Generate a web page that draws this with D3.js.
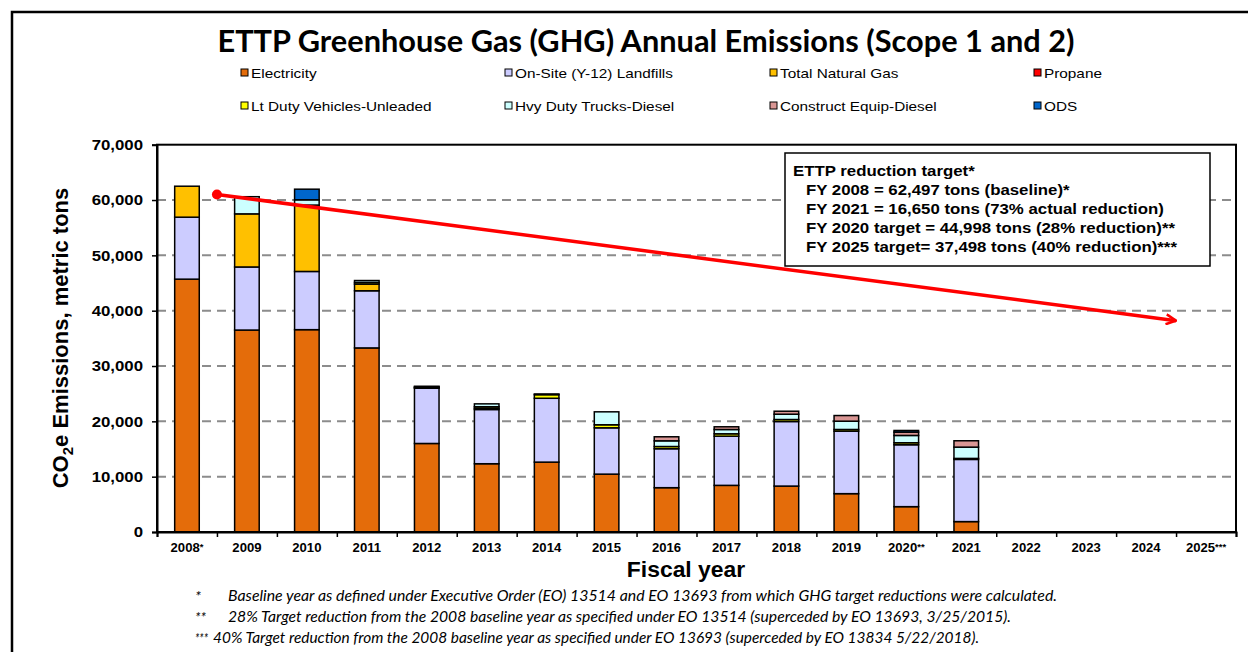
<!DOCTYPE html>
<html lang="en">
<head>
<meta charset="UTF-8">
<title>ETTP GHG Annual Emissions</title>
<script src="https://cdn.jsdelivr.net/npm/d3@7"></script>
<style>
  body{margin:0;background:#fff;}
  text{font-family:"Liberation Sans",Arial,sans-serif;fill:#000;}
</style>
</head>
<body>
<svg id="chart" width="1248" height="652"></svg>
<script>
// fiscal years on the x axis, and the asterisk notes after some of them
var years = ["2008","2009","2010","2011","2012","2013","2014","2015","2016","2017","2018","2019","2020","2021","2022","2023","2024","2025"];
var yearNotes = ["*","","","","","","","","","","","","**","","","","","***"];

// emissions per source, metric tons CO2e
var electricity = [45700,36500,36570,33270,16000,12340,12630,10460,8010,8430,8300,6930,4580,1880,0,0,0,0];
var landfills   = [11200,11400,10520,10330,9980,9800,11540,8370,7040,8890,11670,11290,11190,11240,0,0,0,0];
var naturalGas  = [5597,9600,12000,1200,120,200,0,0,0,0,0,0,0,0,0,0,0,0];
var propane     = [0,0,0,0,0,0,0,0,0,0,0,0,0,0,0,0,0,0];
var ltDuty      = [0,0,0,300,120,300,650,550,400,430,360,310,360,180,0,0,0,0];
var hvyTrucks   = [0,3100,950,350,120,520,130,2340,1030,775,960,1500,1320,2040,0,0,0,0];
var construct   = [0,0,0,0,0,0,0,0,730,490,540,1020,600,1150,0,0,0,0];
var ods         = [0,0,1920,0,0,0,0,0,0,0,0,0,300,0,0,0,0,0];

var seriesNames = ["Electricity","On-Site (Y-12) Landfills","Total Natural Gas","Propane",
                   "Lt Duty Vehicles-Unleaded","Hvy Duty Trucks-Diesel","Construct Equip-Diesel","ODS"];
var seriesColors = ["#E46C0A","#CCCCFF","#FFC000","#FF0000","#FFFF00","#CCFFFF","#D99694","#0066CC"];
var seriesValues = [electricity,landfills,naturalGas,propane,ltDuty,hvyTrucks,construct,ods];

// red target arrow: start (FY2008 baseline) and end (FY2025 target)
var trendYears = [2008, 2025];
var trendValues = [61000, 38200];

var yTicks = [0,10000,20000,30000,40000,50000,60000,70000];
var gridValues = [10000,20000,30000,40000,50000,60000];

var boxLines = ["ETTP reduction target*",
  "FY 2008 = 62,497 tons (baseline)*",
  "FY 2021 = 16,650 tons (73% actual reduction)",
  "FY 2020 target = 44,998 tons (28% reduction)**",
  "FY 2025 target= 37,498 tons (40% reduction)***"];

var footMarks = ["*","**","***"];
var footTexts = [
  "Baseline year as defined under Executive Order (EO) 13514 and EO 13693 from which GHG target reductions were calculated.",
  "28% Target reduction from the 2008 baseline year as specified under EO 13514 (superceded by EO 13693, 3/25/2015).",
  "40% Target reduction from the 2008 baseline year as specified under EO 13693 (superceded by EO 13834 5/22/2018)."];

var svg = d3.select("#chart");
var L = 157, R = 1236, T = 144.7, B = 532;

// outer frame
svg.append("rect").attr("x",12).attr("y",12).attr("width",1260).attr("height",700)
  .attr("fill","none").attr("stroke","#000").attr("stroke-width",2.5);

// title
svg.append("text").attr("x",646).attr("y",52).attr("text-anchor","middle")
  .style("font-family","Lato,'Open Sans',sans-serif").style("font-weight","bold").style("font-size","30px")
  .attr("textLength",857).attr("lengthAdjust","spacingAndGlyphs")
  .text("ETTP Greenhouse Gas (GHG) Annual Emissions (Scope 1 and 2)");

// legend
var legCols = [241,505,770,1034], legRows = [73,106];
seriesNames.forEach(function(n,i){
  var lx = legCols[i%4], ly = legRows[Math.floor(i/4)];
  svg.append("rect").attr("x",lx).attr("y",ly-4).attr("width",7).attr("height",7)
    .attr("fill",seriesColors[i]).attr("stroke","#000").attr("stroke-width",1);
  svg.append("text").attr("transform","translate("+(lx+10)+","+(ly+5)+") scale(1.18,1)")
    .style("font-size","13px").text(n);
});

// scales
var x = d3.scaleBand().domain(years).range([L,R]).paddingInner(0.59).paddingOuter(0.295);
var edge = d3.scaleLinear().domain([0,years.length]).range([L,R]);
var y = d3.scaleLinear().domain([0,70000]).range([B,T]);

// grid
svg.append("g").selectAll("line").data(gridValues).join("line")
  .attr("x1",L).attr("x2",R).attr("y1",d=>y(d)).attr("y2",d=>y(d))
  .attr("stroke","#8c8c8c").attr("stroke-width",2).attr("stroke-dasharray","9,6");

// stacked bars
var table = years.map(function(yr,i){
  var row = {year: yr};
  seriesNames.forEach(function(n,k){ row[n] = seriesValues[k][i]; });
  return row;
});
var stacked = d3.stack().keys(seriesNames)(table);
svg.append("g").selectAll("g").data(stacked).join("g")
  .attr("fill",(d,i)=>seriesColors[i])
  .selectAll("rect").data(d=>d.filter(s=>s[1]-s[0]>0)).join("rect")
  .attr("x",d=>x(d.data.year)).attr("width",x.bandwidth())
  .attr("y",d=>y(d[1])).attr("height",d=>y(d[0])-y(d[1]))
  .attr("stroke","#000").attr("stroke-width",1.5);

// plot box (top and right)
svg.append("rect").attr("x",L).attr("y",T).attr("width",R-L).attr("height",B-T)
  .attr("fill","none").attr("stroke","#000").attr("stroke-width",2);

// y axis
var ySx = 1.12;
var yAxis = svg.append("g").attr("transform","translate("+L+",0)")
  .call(d3.axisLeft(y).tickValues(yTicks).tickSize(5).tickFormat(d3.format(",")));
yAxis.select(".domain").attr("stroke-width",2);
yAxis.selectAll(".tick line").attr("stroke-width",1.5);
yAxis.selectAll("text").attr("x",-14/ySx).attr("transform","scale("+ySx+",1)")
  .style("font-family","'Liberation Sans',Arial,sans-serif").style("font-size","15px").style("font-weight","bold");

// x axis: boundary ticks + labels
var xEdges = svg.append("g").attr("transform","translate(0,"+B+")")
  .call(d3.axisBottom(edge).ticks(years.length).tickSize(5).tickFormat(""));
xEdges.select(".domain").attr("stroke-width",2);
xEdges.selectAll(".tick line").attr("stroke-width",1.5);

var xLab = svg.append("g").attr("transform","translate(0,"+B+")")
  .call(d3.axisBottom(x).tickSize(0).tickPadding(11).tickFormat(""));
xLab.select(".domain").remove();
xLab.selectAll(".tick text").attr("transform","scale(1.05,1)")
  .style("font-family","'Liberation Sans',Arial,sans-serif").style("font-size","12.5px").style("font-weight","bold")
  .each(function(d,i){
    var t = d3.select(this);
    t.append("tspan").text(d);
    if (yearNotes[i]) t.append("tspan").attr("dy","-2").style("font-size","9px").text(yearNotes[i]);
  });

// axis titles
svg.append("text").attr("transform","translate(686,577) scale(1.04,1)").attr("text-anchor","middle")
  .style("font-size","22px").style("font-weight","bold").text("Fiscal year");
var yt = svg.append("text").attr("transform","translate(68,338) rotate(-90)").attr("text-anchor","middle")
  .style("font-size","22px").style("font-weight","bold");
yt.append("tspan").text("CO");
yt.append("tspan").attr("dy",5).style("font-size","15px").text("2");
yt.append("tspan").attr("dy",-5).text("e Emissions, metric tons");

// target arrow
var tx = d3.scaleLinear().domain([2008,2025]).range([edge(1),edge(17)]);
svg.append("defs").append("marker").attr("id","arr").attr("viewBox","0 0 12 12")
  .attr("refX",11).attr("refY",6).attr("markerWidth",12).attr("markerHeight",12)
  .attr("markerUnits","userSpaceOnUse").attr("orient","auto")
  .append("path").attr("d","M1,1 L11,6 L1,11").attr("fill","none").attr("stroke","#FF0000").attr("stroke-width",2.5);
var trend = trendYears.map((yr,i)=>({yr:yr, v:trendValues[i]}));
svg.append("path").datum(trend)
  .attr("d",d3.line().x(d=>tx(d.yr)).y(d=>y(d.v)))
  .attr("fill","none").attr("stroke","#FF0000").attr("stroke-width",3.5).attr("marker-end","url(#arr)");
svg.append("circle").attr("cx",tx(trend[0].yr)).attr("cy",y(trend[0].v)).attr("r",5).attr("fill","#FF0000");

// target box
svg.append("rect").attr("x",785).attr("y",153).attr("width",425).attr("height",113)
  .attr("fill","#fff").attr("stroke","#000").attr("stroke-width",1.5);
boxLines.forEach(function(s,i){
  svg.append("text").attr("transform","translate("+(i?806:793)+","+(176+i*19)+") scale(1.16,1)")
    .style("font-size","14.5px").style("font-weight","bold").text(s);
});

// footnotes
var footX = [228,228,213], footW = [829,783,766], markW = [6,11,13];
footTexts.forEach(function(s,i){
  var fy = 601 + i*21;
  svg.append("text").attr("x",195).attr("y",fy)
    .style("font-family","Lato,'Open Sans',sans-serif").style("font-style","italic").style("font-size","14px")
    .attr("textLength",markW[i]).attr("lengthAdjust","spacingAndGlyphs")
    .text(footMarks[i]);
  svg.append("text").attr("x",footX[i]).attr("y",fy)
    .style("font-family","Lato,'Open Sans',sans-serif").style("font-style","italic").style("font-size","14.5px")
    .attr("textLength",footW[i]).attr("lengthAdjust","spacingAndGlyphs")
    .text(s);
});
</script>
</body>
</html>
